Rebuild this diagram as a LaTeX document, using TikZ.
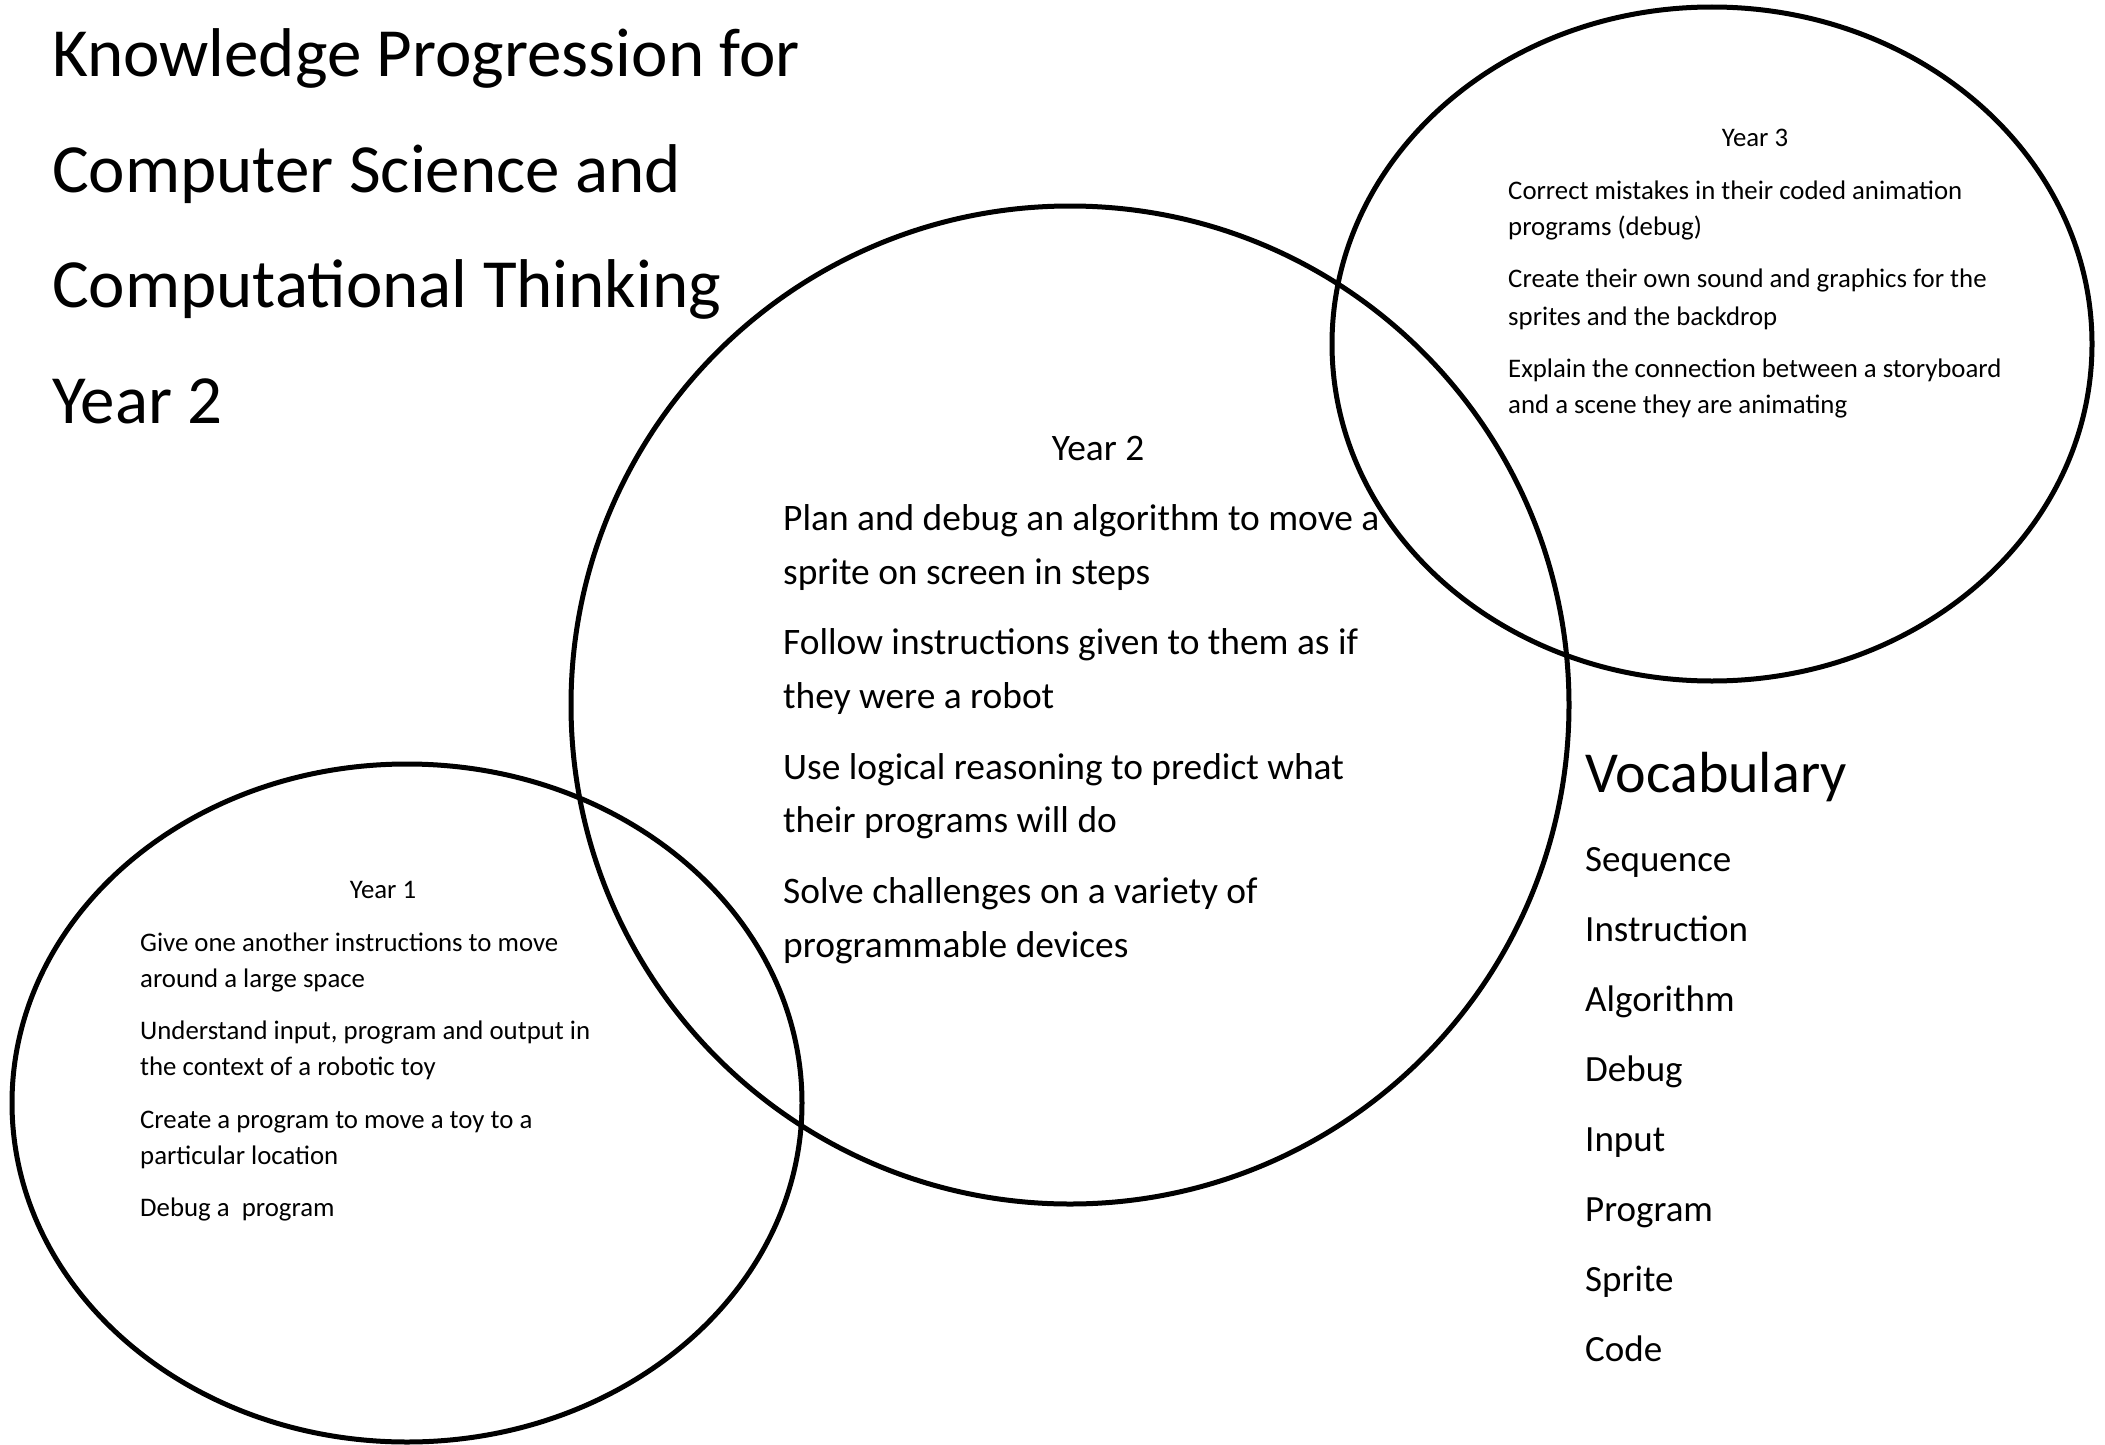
\documentclass[tikz,border=0pt]{standalone}
\usepackage{fontspec}
\setmainfont{Carlito}
\begin{document}
\begin{tikzpicture}[x=1pt,y=-1pt,
  ring/.style={draw=black,line width=5pt},
  ttl/.style={anchor=base west,inner sep=0pt,font=\fontsize{69}{69}\selectfont},
  big/.style={anchor=base west,inner sep=0pt,font=\fontsize{37.4}{37.4}\selectfont},
  small/.style={anchor=base west,inner sep=0pt,font=\fontsize{26.8}{26.8}\selectfont},
  vhead/.style={anchor=base west,inner sep=0pt,font=\fontsize{58}{58}\selectfont},
  vitem/.style={anchor=base west,inner sep=0pt,font=\fontsize{37}{37}\selectfont}]
\useasboundingbox[fill=white] (0,0) rectangle (2105,1445);
% circles
\draw[ring] (1070,705) circle[radius=499];
\draw[ring] (1712,344) ellipse[x radius=380,y radius=337];
\draw[ring] (407,1103) ellipse[x radius=395,y radius=339];
% title
\node[ttl] (t1) at (52,77) {Knowledge Progression for};
\node[ttl] (t2) at (52,192) {Computer Science and};
\node[ttl] (t3) at (52,307) {Computational Thinking};
\node[ttl] (t4) at (52,423) {Year 2};
% year 2
\node[big,anchor=base] (y2) at (1098,460) {Year 2};
\node[big] (y2a) at (783,530) {Plan and debug an algorithm to move a};
\node[big] (y2b) at (783,584) {sprite on screen in steps};
\node[big] (y2c) at (783,654) {Follow instructions given to them as if};
\node[big] (y2d) at (783,708) {they were a robot};
\node[big] (y2e) at (783,779) {Use logical reasoning to predict what};
\node[big] (y2f) at (783,832) {their programs will do};
\node[big] (y2g) at (783,903) {Solve challenges on a variety of};
\node[big] (y2h) at (783,957) {programmable devices};
% year 3
\node[small,anchor=base] (y3) at (1755,146) {Year 3};
\node[small] (y3a) at (1508,199) {Correct mistakes in their coded animation};
\node[small] (y3b) at (1508,235) {programs (debug)};
\node[small] (y3c) at (1508,287) {Create their own sound and graphics for the};
\node[small] (y3d) at (1508,325) {sprites and the backdrop};
\node[small] (y3e) at (1508,377) {Explain the connection between a storyboard};
\node[small] (y3f) at (1508,413) {and a scene they are animating};
% year 1
\node[small,anchor=base] (y1) at (383,898) {Year 1};
\node[small] (y1a) at (140,951) {Give one another instructions to move};
\node[small] (y1b) at (140,987) {around a large space};
\node[small] (y1c) at (140,1039) {Understand input, program and output in};
\node[small] (y1d) at (140,1075) {the context of a robotic toy};
\node[small] (y1e) at (140,1128) {Create a program to move a toy to a};
\node[small] (y1f) at (140,1164) {particular location};
\node[small] (y1g) at (140,1216) {Debug a\ \ program};
% vocabulary
\node[vhead] (vh) at (1585,792) {Vocabulary};
\node[vitem] (v1) at (1585,871) {Sequence};
\node[vitem] (v2) at (1585,941) {Instruction};
\node[vitem] (v3) at (1585,1011) {Algorithm};
\node[vitem] (v4) at (1585,1081) {Debug};
\node[vitem] (v5) at (1585,1151) {Input};
\node[vitem] (v6) at (1585,1221) {Program};
\node[vitem] (v7) at (1585,1291) {Sprite};
\node[vitem] (v8) at (1585,1361) {Code};
\end{tikzpicture}
\end{document}
